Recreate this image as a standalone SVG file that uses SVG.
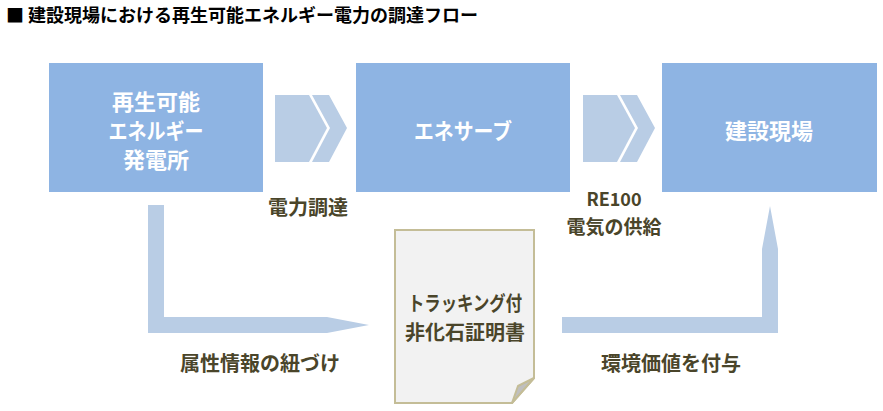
<svg xmlns="http://www.w3.org/2000/svg" width="883" height="411" viewBox="0 0 883 411">
<style>
text{font-family:"Noto Sans CJK JP","Noto Sans",sans-serif;font-weight:bold;}
.title{font-size:18px;fill:#000;}
.box{fill:#8EB4E3;}
.bt{font-size:22px;fill:#fff;text-anchor:middle;dominant-baseline:central;}
.lbl{font-size:20px;fill:#4A452A;text-anchor:middle;dominant-baseline:central;}
.arr{fill:#B9CDE5;}
.doc{fill:#F2F2F2;stroke:#C4BD97;stroke-width:2;}
.fold{fill:#BFBFBF;stroke:#C4BD97;stroke-width:2;stroke-linejoin:round;}
</style>
<rect width="883" height="411" fill="#fff"/>
<text class="title" x="6" y="22">■ 建設現場における再生可能エネルギー電力の調達フロー</text>

<g id="connectors">
  <g id="chevron1">
    <polygon class="arr" points="275,95 309,95 327,128 309,162 275,162"/>
    <polygon class="arr" points="312,95 329,95 347,128 329,162 312,162 330,128"/>
  </g>
  <g id="chevron2">
    <polygon class="arr" points="583,95 617,95 635,128 617,162 583,162"/>
    <polygon class="arr" points="620,95 637,95 655,128 637,162 620,162 638,128"/>
  </g>
  <polygon id="arrow-left" class="arr" points="148,205 164,205 164,317 327,317 369,325 327,333 148,333"/>
  <polygon id="arrow-right" class="arr" points="562,317 762,317 762,249 770,206 778,249 778,333 562,333"/>
</g>

<g id="node-plant">
  <rect class="box" x="49" y="63" width="214" height="129"/>
  <text class="bt" x="156" y="100">再生可能</text>
  <text class="bt" x="156" y="129" textLength="95" lengthAdjust="spacingAndGlyphs">エネルギー</text>
  <text class="bt" x="156" y="158">発電所</text>
</g>
<g id="node-eneserve">
  <rect class="box" x="356" y="63" width="214" height="129"/>
  <text class="bt" x="463" y="129" textLength="98" lengthAdjust="spacingAndGlyphs">エネサーブ</text>
</g>
<g id="node-site">
  <rect class="box" x="662" y="63" width="215" height="129"/>
  <text class="bt" x="769" y="129">建設現場</text>
</g>

<g id="node-certificate">
  <path class="doc" d="M395,230 H534 V378 L512,403 H395 Z"/>
  <path class="fold" d="M534,378 L512,403 L518,386 Z"/>
  <text class="lbl" x="465" y="302" textLength="114" lengthAdjust="spacingAndGlyphs">トラッキング付</text>
  <text class="lbl" x="465" y="331">非化石証明書</text>
</g>

<g id="labels">
  <text class="lbl" x="308" y="206">電力調達</text>
  <text class="lbl" x="614" y="198" style="font-size:18px">RE100</text>
  <text class="lbl" x="614" y="225" style="font-size:19px">電気の供給</text>
  <text class="lbl" x="260" y="362">属性情報の紐づけ</text>
  <text class="lbl" x="671" y="362">環境価値を付与</text>
</g>
</svg>
